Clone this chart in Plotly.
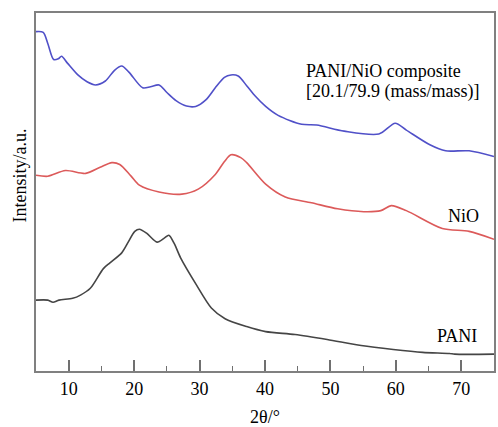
import plotly.graph_objects as go

# 2θ (degrees) and intensity (a.u., arbitrary 0-100 scale)
comp_x = [5.0, 6.1, 6.8, 7.7, 8.4, 8.9, 9.8, 11.4, 12.8, 14.1, 15.6, 17.0, 18.1, 19.2, 21.3, 22.5, 23.8, 25.0, 26.4, 28.0, 29.4,
          31.0, 32.4, 33.8, 34.8, 35.9, 37.2, 38.5, 40.1, 42.0, 45.6, 47.9, 52.1, 57.4, 59.9, 61.6, 65.2, 67.6, 71.2, 75.0]
comp_y = [94.8, 94.6, 91.5, 87.0, 87.2, 87.9, 86.0, 82.7, 80.8, 79.9, 81.0, 84.0, 85.2, 83.5, 79.1, 79.4, 79.9, 77.8, 75.5, 74.0, 73.9,
          75.8, 79.1, 82.0, 82.7, 82.4, 79.7, 76.8, 73.9, 71.4, 68.9, 68.7, 67.0, 66.2, 69.2, 67.3, 63.2, 61.5, 61.5, 59.9]

nio_x = [5.0, 6.8, 9.5, 12.6, 14.8, 16.6, 17.8, 19.5, 20.8, 23.8, 27.3, 29.8, 32.4, 33.8, 34.8, 36.3, 37.2,
         40.1, 43.1, 47.1, 51.1, 55.1, 57.7, 59.3, 61.6, 67.1, 71.2, 75.0]
nio_y = [54.7, 54.4, 56.0, 55.2, 56.9, 58.2, 57.7, 54.5, 51.9, 50.0, 49.4, 50.8, 54.9, 58.5, 60.4, 59.6, 58.2,
         52.2, 48.6, 47.0, 45.3, 44.5, 44.8, 46.2, 44.8, 39.8, 39.0, 36.8]

pani_x = [5.0, 6.8, 7.6, 8.5, 10.6, 11.8, 13.3, 15.3, 16.3, 18.1, 19.0, 20.1, 20.8, 21.9, 23.5, 24.6, 25.3,
          26.1, 27.1, 29.4, 31.8, 33.9, 37.2, 40.1, 44.6, 49.5, 54.7, 59.6, 64.1, 68.2, 69.0, 75.0]
pani_y = [19.8, 19.8, 19.2, 19.8, 20.3, 21.2, 23.1, 28.6, 30.2, 33.0, 35.7, 39.0, 39.6, 38.5, 36.0, 37.1, 37.9,
          35.7, 31.6, 24.4, 17.6, 14.6, 12.4, 11.0, 10.2, 8.8, 7.1, 6.0, 5.2, 4.9, 4.7, 4.7]

x_ticks = [10, 20, 30, 40, 50, 60, 70]

FONT = "Liberation Serif, Times New Roman, serif"
FS = 18

fig = go.Figure()
for xs, ys, col in [(comp_x, comp_y, "#5050c8"), (nio_x, nio_y, "#dc5a5a"), (pani_x, pani_y, "#454545")]:
    fig.add_trace(go.Scatter(x=xs, y=ys, mode="lines",
                             line=dict(color=col, width=1.6, shape="spline", smoothing=0.8),
                             showlegend=False))

fig.add_annotation(x=46.0, y=83.8, xref="x", yref="y", text="PANI/NiO composite", showarrow=False,
                   xanchor="left", yanchor="middle", font=dict(family=FONT, size=FS, color="black"))
fig.add_annotation(x=46.0, y=78.0, xref="x", yref="y", text="[20.1/79.9 (mass/mass)]", showarrow=False,
                   xanchor="left", yanchor="middle", font=dict(family=FONT, size=FS, color="black"))
fig.add_annotation(x=73.0, y=43.4, xref="x", yref="y", text="NiO", showarrow=False,
                   xanchor="right", yanchor="middle", font=dict(family=FONT, size=FS, color="black"))
fig.add_annotation(x=72.7, y=9.9, xref="x", yref="y", text="PANI", showarrow=False,
                   xanchor="right", yanchor="middle", font=dict(family=FONT, size=FS, color="black"))
fig.add_annotation(x=-0.036, xref="paper", y=0.545, yref="paper", text="Intensity/a.u.", showarrow=False,
                   textangle=-90, font=dict(family=FONT, size=FS, color="black"), xanchor="center", yanchor="middle")

fig.update_layout(
    width=498, height=427,
    margin=dict(l=36, r=2, t=13, b=50),
    paper_bgcolor="white", plot_bgcolor="white",
    font=dict(family=FONT, size=FS, color="black"),
)
fig.update_xaxes(range=[5, 75], tickvals=x_ticks, ticks="inside", ticklen=11, tickwidth=1.5, tickcolor="#707070",
                 minor=dict(tickvals=[15, 25, 35, 45, 55, 65], ticks="inside", ticklen=5, tickwidth=1.2, tickcolor="#707070"),
                 showline=True, linecolor="#808080", linewidth=2, mirror=True, showgrid=False, zeroline=False,
                 title=dict(text="2θ/°", font=dict(family=FONT, size=FS), standoff=14),
                 tickfont=dict(family=FONT, size=FS))
fig.update_yaxes(range=[0, 100], showticklabels=False, ticks="", showline=True, linecolor="#808080", linewidth=2,
                 mirror=True, showgrid=False, zeroline=False)

fig.write_html("out.html")
